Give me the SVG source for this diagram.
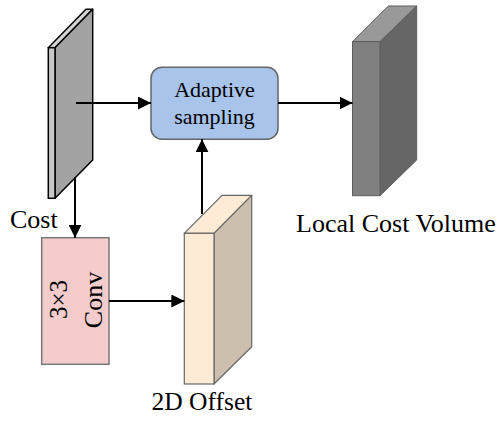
<svg xmlns="http://www.w3.org/2000/svg" width="502" height="425" viewBox="0 0 502 425">
  <style>
    .lbl { font-family: "Liberation Serif", "Times New Roman", serif; fill: #000; }
    .edge { stroke: #000; stroke-width: 2; fill: none; marker-end: url(#arrow); }
  </style>
  <defs>
    <marker id="arrow" viewBox="0 0 10 10" refX="10" refY="5" markerWidth="6.5" markerHeight="6.5" markerUnits="strokeWidth" orient="auto">
      <path d="M0,0 L10,5 L0,10 z" fill="#000"/>
    </marker>
  </defs>
  <rect width="502" height="425" fill="#fff"/>

  <!-- Cost slab (thin, tilted) -->
  <g id="cost">
    <polygon points="48.3,47.7 55,47.7 92.7,9.3 86,9.3" fill="#d4d4d4" stroke="#000" stroke-width="1.5" stroke-linejoin="round"/>
    <polygon points="55,47.7 92.7,9.3 92.7,160 55,198.3" fill="#a3a3a3" stroke="#000" stroke-width="1.5" stroke-linejoin="round"/>
    <rect x="48.3" y="47.7" width="6.7" height="150.6" fill="#c8c8c8" stroke="#000" stroke-width="1.5"/>
    <text class="lbl" x="10" y="228" font-size="26">Cost</text>
  </g>

  <!-- Adaptive sampling block -->
  <g id="adaptive">
    <rect x="151" y="67.3" width="127" height="72" rx="11" fill="#a9c4eb" stroke="#666" stroke-width="1.5"/>
    <text class="lbl" x="214.5" y="97" font-size="22" text-anchor="middle">Adaptive</text>
    <text class="lbl" x="214.5" y="123.5" font-size="22" text-anchor="middle">sampling</text>
  </g>

  <!-- Local cost volume -->
  <g id="local-volume">
    <polygon points="352.5,41.7 380,41.7 416.7,6 388.3,6" fill="#999" stroke="#5e5e5e" stroke-width="1"/>
    <polygon points="380,41.7 416.7,6 416.7,160 380,195.7" fill="#666" stroke="#5e5e5e" stroke-width="1"/>
    <rect x="352.5" y="41.7" width="27.5" height="154" fill="#808080" stroke="#5e5e5e" stroke-width="1"/>
    <text class="lbl" x="296" y="232" font-size="26">Local Cost Volume</text>
  </g>

  <!-- 3x3 convolution -->
  <g id="conv">
    <rect x="41.7" y="237.7" width="67.3" height="126.6" fill="#f4cccc" stroke="#777" stroke-width="1.5"/>
    <text class="lbl" font-size="25" text-anchor="middle" transform="translate(66.5,299.5) rotate(-90)">3×3</text>
    <text class="lbl" font-size="26" text-anchor="middle" transform="translate(101.5,300) rotate(-90)">Conv</text>
  </g>

  <!-- 2D offset volume -->
  <g id="offset">
    <polygon points="184.3,233.3 214,233.3 251.7,195.3 222,195.3" fill="#fdebd6" stroke="#666" stroke-width="1.2" stroke-linejoin="round"/>
    <polygon points="214,233.3 251.7,195.3 251.7,346.7 214,384" fill="#cdbfad" stroke="#666" stroke-width="1.2" stroke-linejoin="round"/>
    <rect x="184.3" y="233.3" width="29.7" height="150.7" fill="#fdebd6" stroke="#666" stroke-width="1.2"/>
    <text class="lbl" x="151.5" y="410" font-size="25.5">2D Offset</text>
  </g>

  <!-- Connectors -->
  <g id="connectors">
    <line class="edge" x1="76" y1="103" x2="151" y2="103"/>
    <line class="edge" x1="278" y1="103" x2="352.5" y2="103"/>
    <line class="edge" x1="75" y1="177" x2="75" y2="237.7"/>
    <line class="edge" x1="109" y1="301" x2="184.3" y2="301"/>
    <line class="edge" x1="202" y1="214" x2="202" y2="139.3"/>
  </g>
</svg>
